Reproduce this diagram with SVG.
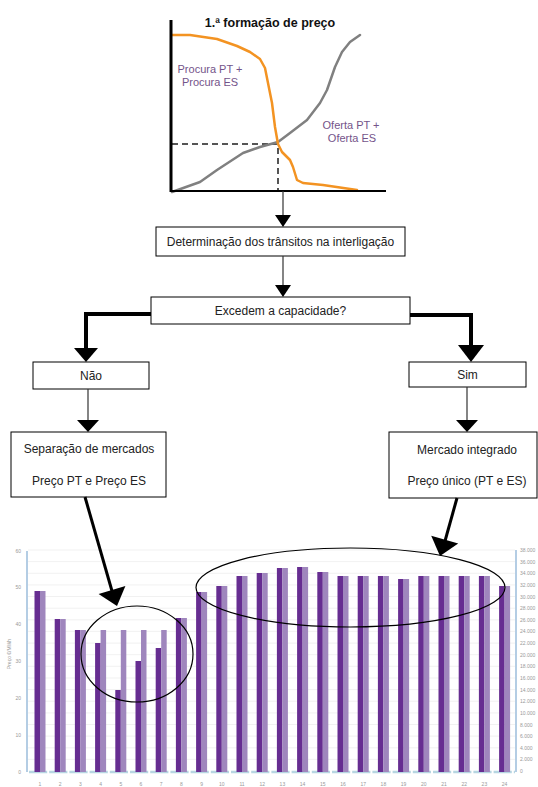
<svg xmlns="http://www.w3.org/2000/svg" width="538" height="787" viewBox="0 0 538 787">
<style>
.box{fill:#fff;stroke:#000;stroke-width:1}
.t{font-family:"Liberation Sans",Arial,sans-serif;font-size:12px;fill:#222;text-anchor:middle}
.lbl{font-family:"Liberation Sans",Arial,sans-serif;font-size:11px;fill:#74548a;text-anchor:middle}
.thin{stroke:#333;stroke-width:1.2;fill:none}
.thick{stroke:#000;stroke-width:4;fill:none}
.diag{stroke:#000;stroke-width:3;fill:none}
.ax{font-family:"Liberation Sans",Arial,sans-serif;font-size:5px;fill:#999}
.dk{fill:#662d91}
.lt{fill:#9f86bd}
.grid{stroke:#eeeeee;stroke-width:0.8}
.ell{fill:none;stroke:#000;stroke-width:1.2}
</style>
<rect width="538" height="787" fill="#fff"/>

<g id="supply-demand-chart">
<text x="270" y="27" font-family="Liberation Sans,Arial,sans-serif" font-size="12.5" font-weight="bold" text-anchor="middle" fill="#111">1.ª formação de preço</text>
<polyline points="172,144 278,144 278,190" fill="none" stroke="#555" stroke-width="2" stroke-dasharray="6 4"/>
<polyline fill="none" stroke="#808080" stroke-width="2.5" stroke-linejoin="round" stroke-linecap="round" points="172,192 200,182 217,170 243,153 260,147 278,142 290,133 307,120 320,103 327,90 335,67 342,52 350,42 360,35"/>
<polyline fill="none" stroke="#f39322" stroke-width="2.5" stroke-linejoin="round" stroke-linecap="round" points="172,35 190,35 217,39 237,46 250,52 260,59 265,68 268,83 272,103 275,127 278,144 282,152 290,160 293,167 297,180 303,183 323,185 357,190"/>
<line x1="171" y1="20" x2="171" y2="192" stroke="#000" stroke-width="3"/>
<line x1="170" y1="191" x2="386" y2="191" stroke="#000" stroke-width="2"/>
<text class="lbl" x="210" y="73">Procura PT +</text>
<text class="lbl" x="210" y="86">Procura ES</text>
<text class="lbl" x="351" y="129">Oferta PT +</text>
<text class="lbl" x="352" y="142">Oferta ES</text>
</g>

<g id="node-determinacao">
<rect class="box" x="156" y="227" width="249" height="29"/>
<text class="t" x="280.5" y="246">Determinação dos trânsitos na interligação</text>
</g>
<g id="node-excedem">
<rect class="box" x="151" y="297" width="259" height="27"/>
<text class="t" x="280.5" y="315">Excedem a capacidade?</text>
</g>
<g id="node-nao">
<rect class="box" x="33" y="362" width="116" height="27"/>
<text class="t" x="91" y="380">Não</text>
</g>
<g id="node-sim">
<rect class="box" x="409" y="362" width="117" height="25"/>
<text class="t" x="467.5" y="379">Sim</text>
</g>
<g id="node-separacao">
<rect class="box" x="11" y="432" width="155" height="65"/>
<text class="t" x="89" y="453">Separação de mercados</text>
<text class="t" x="89" y="485">Preço PT e Preço ES</text>
</g>
<g id="node-mercado">
<rect class="box" x="389" y="432" width="148" height="66"/>
<text class="t" x="467" y="454">Mercado integrado</text>
<text class="t" x="467" y="485">Preço único (PT e ES)</text>
</g>

<g id="bar-chart">
<g class="grid">
<line x1="28" y1="550" x2="515" y2="550"/><line x1="28" y1="561.6" x2="515" y2="561.6"/><line x1="28" y1="573.3" x2="515" y2="573.3"/><line x1="28" y1="584.9" x2="515" y2="584.9"/><line x1="28" y1="596.5" x2="515" y2="596.5"/><line x1="28" y1="608.2" x2="515" y2="608.2"/><line x1="28" y1="619.8" x2="515" y2="619.8"/><line x1="28" y1="631.4" x2="515" y2="631.4"/><line x1="28" y1="643.1" x2="515" y2="643.1"/><line x1="28" y1="654.7" x2="515" y2="654.7"/><line x1="28" y1="666.3" x2="515" y2="666.3"/><line x1="28" y1="678" x2="515" y2="678"/><line x1="28" y1="689.6" x2="515" y2="689.6"/><line x1="28" y1="701.2" x2="515" y2="701.2"/><line x1="28" y1="712.9" x2="515" y2="712.9"/><line x1="28" y1="724.5" x2="515" y2="724.5"/><line x1="28" y1="736.1" x2="515" y2="736.1"/><line x1="28" y1="747.8" x2="515" y2="747.8"/><line x1="28" y1="759.4" x2="515" y2="759.4"/>
</g>
<line x1="27" y1="551" x2="27" y2="772" stroke="#b4cde4" stroke-width="2"/>
<line x1="516" y1="550" x2="516" y2="772" stroke="#b4cde4" stroke-width="2"/>
<line x1="29" y1="772" x2="515" y2="772" stroke="#b7d6e2" stroke-width="2.5" stroke-dasharray="18.2 2"/>
<g id="bars">
<rect class="dk" x="34.5" y="591" width="5.5" height="181"/><rect class="lt" x="40" y="591" width="5.5" height="181"/>
<rect class="dk" x="54.7" y="619" width="5.5" height="153"/><rect class="lt" x="60.2" y="619" width="5.5" height="153"/>
<rect class="dk" x="74.9" y="630" width="5.5" height="142"/><rect class="lt" x="80.4" y="630" width="5.5" height="142"/>
<rect class="dk" x="95.1" y="643" width="5.5" height="129"/><rect class="lt" x="100.6" y="630" width="5.5" height="142"/>
<rect class="dk" x="115.3" y="690" width="5.5" height="82"/><rect class="lt" x="120.8" y="630" width="5.5" height="142"/>
<rect class="dk" x="135.5" y="661" width="5.5" height="111"/><rect class="lt" x="141" y="630" width="5.5" height="142"/>
<rect class="dk" x="155.7" y="648" width="5.5" height="124"/><rect class="lt" x="161.2" y="630" width="5.5" height="142"/>
<rect class="dk" x="175.9" y="618" width="5.5" height="154"/><rect class="lt" x="181.4" y="618" width="5.5" height="154"/>
<rect class="dk" x="196.1" y="592" width="5.5" height="180"/><rect class="lt" x="201.6" y="592" width="5.5" height="180"/>
<rect class="dk" x="216.3" y="586" width="5.5" height="186"/><rect class="lt" x="221.8" y="586" width="5.5" height="186"/>
<rect class="dk" x="236.5" y="576" width="5.5" height="196"/><rect class="lt" x="242" y="576" width="5.5" height="196"/>
<rect class="dk" x="256.7" y="573" width="5.5" height="199"/><rect class="lt" x="262.2" y="573" width="5.5" height="199"/>
<rect class="dk" x="276.9" y="568" width="5.5" height="204"/><rect class="lt" x="282.4" y="568" width="5.5" height="204"/>
<rect class="dk" x="297.1" y="567" width="5.5" height="205"/><rect class="lt" x="302.6" y="567" width="5.5" height="205"/>
<rect class="dk" x="317.3" y="572" width="5.5" height="200"/><rect class="lt" x="322.8" y="572" width="5.5" height="200"/>
<rect class="dk" x="337.5" y="576" width="5.5" height="196"/><rect class="lt" x="343" y="576" width="5.5" height="196"/>
<rect class="dk" x="357.7" y="576" width="5.5" height="196"/><rect class="lt" x="363.2" y="576" width="5.5" height="196"/>
<rect class="dk" x="377.9" y="576" width="5.5" height="196"/><rect class="lt" x="383.4" y="576" width="5.5" height="196"/>
<rect class="dk" x="398.1" y="579" width="5.5" height="193"/><rect class="lt" x="403.6" y="579" width="5.5" height="193"/>
<rect class="dk" x="418.3" y="576" width="5.5" height="196"/><rect class="lt" x="423.8" y="576" width="5.5" height="196"/>
<rect class="dk" x="438.5" y="576" width="5.5" height="196"/><rect class="lt" x="444" y="576" width="5.5" height="196"/>
<rect class="dk" x="458.7" y="576" width="5.5" height="196"/><rect class="lt" x="464.2" y="576" width="5.5" height="196"/>
<rect class="dk" x="478.9" y="576" width="5.5" height="196"/><rect class="lt" x="484.4" y="576" width="5.5" height="196"/>
<rect class="dk" x="499.1" y="586" width="5.5" height="186"/><rect class="lt" x="504.6" y="586" width="5.5" height="186"/>
</g>
<g class="ax" text-anchor="end">
<text x="21" y="553">60</text><text x="21" y="589">50</text><text x="21" y="626">40</text><text x="21" y="663">30</text><text x="21" y="700">20</text><text x="21" y="737">10</text><text x="21" y="774">0</text>
</g>
<text class="ax" transform="translate(11,654) rotate(-90)" text-anchor="middle">Preço €/MWh</text>
<g class="ax">
<text x="520" y="552">38.000</text><text x="520" y="563.6">36.000</text><text x="520" y="575.3">34.000</text><text x="520" y="586.9">32.000</text><text x="520" y="598.5">30.000</text><text x="520" y="610.2">28.000</text><text x="520" y="621.8">26.000</text><text x="520" y="633.4">24.000</text><text x="520" y="645.1">22.000</text><text x="520" y="656.7">20.000</text><text x="520" y="668.3">18.000</text><text x="520" y="680">16.000</text><text x="520" y="691.6">14.000</text><text x="520" y="703.2">12.000</text><text x="520" y="714.9">10.000</text><text x="520" y="726.5">8.000</text><text x="520" y="738.1">6.000</text><text x="520" y="749.8">4.000</text><text x="520" y="761.4">2.000</text><text x="520" y="773">0</text>
</g>
<g class="ax" text-anchor="middle">
<text x="40" y="786">1</text><text x="60.2" y="786">2</text><text x="80.4" y="786">3</text><text x="100.6" y="786">4</text><text x="120.8" y="786">5</text><text x="141" y="786">6</text><text x="161.2" y="786">7</text><text x="181.4" y="786">8</text><text x="201.6" y="786">9</text><text x="221.8" y="786">10</text><text x="242" y="786">11</text><text x="262.2" y="786">12</text><text x="282.4" y="786">13</text><text x="302.6" y="786">14</text><text x="322.8" y="786">15</text><text x="343" y="786">16</text><text x="363.2" y="786">17</text><text x="383.4" y="786">18</text><text x="403.6" y="786">19</text><text x="423.8" y="786">20</text><text x="444" y="786">21</text><text x="464.2" y="786">22</text><text x="484.4" y="786">23</text><text x="504.6" y="786">24</text>
</g>
<ellipse id="ellipse-separated" class="ell" cx="137" cy="654" rx="56" ry="48"/>
<ellipse id="ellipse-integrated" class="ell" cx="350.5" cy="587.5" rx="154.5" ry="39.5"/>
</g>

<g id="connectors">
<line class="thin" x1="283" y1="191" x2="283" y2="216"/>
<polygon points="275,215 291,215 283,227" fill="#000"/>
<line class="thin" x1="283" y1="256" x2="283" y2="286"/>
<polygon points="275,285 291,285 283,297" fill="#000"/>
<polyline class="thick" points="151,314 86,314 86,350"/>
<polygon points="74,348 98,348 86,362" fill="#000"/>
<polyline class="thick" points="410,315 471,315 471,347"/>
<polygon points="458,345 484,345 471,362" fill="#000"/>
<line class="thin" x1="88" y1="389" x2="88" y2="421"/>
<polygon points="77,420 99,420 88,432" fill="#000"/>
<line class="thin" x1="467" y1="387" x2="467" y2="421"/>
<polygon points="456,420 478,420 467,432" fill="#000"/>
<line class="diag" x1="85" y1="497" x2="112" y2="591"/>
<polygon points="98.6,594 125.4,586 117,606" fill="#000"/>
<line class="diag" x1="457" y1="498" x2="445" y2="541"/>
<polygon points="431.2,535.8 458.2,543.6 440,556" fill="#000"/>
</g>
</svg>
